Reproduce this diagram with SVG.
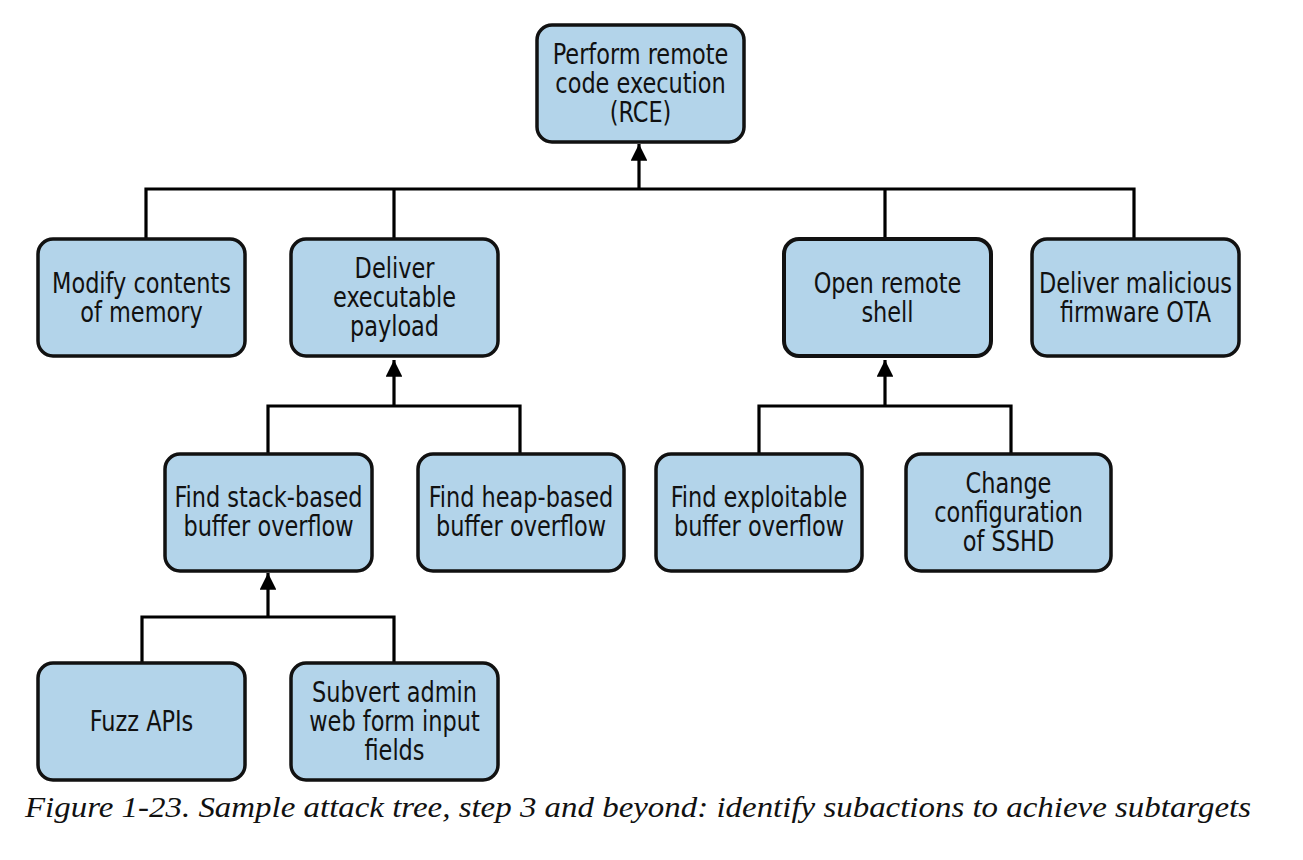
<svg xmlns="http://www.w3.org/2000/svg" width="1303" height="860" viewBox="0 0 1303 860">
<style>
.box{fill:#b3d4ea;stroke:#111;stroke-width:3.5}
.lbl{font-family:"DejaVu Sans Condensed","DejaVu Sans",sans-serif;font-stretch:condensed;font-size:28px;fill:#111;text-anchor:middle}
.ln{fill:none;stroke:#000;stroke-width:3.2}
.cap{font-family:"Liberation Serif",serif;font-style:italic;font-size:30px;fill:#111}
</style>
<defs>
<marker id="arr" viewBox="0 0 10 10" refX="10" refY="5" markerWidth="5.2" markerHeight="5.2" orient="auto" markerUnits="strokeWidth">
<path d="M0,0 L10,5 L0,10 z" fill="#000"/>
</marker>
</defs>
<rect width="1303" height="860" fill="#fff"/>
<g id="connectors">
<path class="ln" d="M146,239 V189 H1134 V239 M394,189 V239 M885,189 V239"/>
<path class="ln" d="M639,189 V144" marker-end="url(#arr)"/>
<path class="ln" d="M268,453 V406 H520 V453"/>
<path class="ln" d="M394,406 V360" marker-end="url(#arr)"/>
<path class="ln" d="M759,453 V406 H1011 V453"/>
<path class="ln" d="M885,406 V360" marker-end="url(#arr)"/>
<path class="ln" d="M142,663 V617 H394 V663"/>
<path class="ln" d="M268,617 V573" marker-end="url(#arr)"/>
</g>
<g id="n-root"><rect class="box" x="537" y="25" width="207" height="117" rx="15"/>
<g transform="translate(640.5,0) scale(0.89,1)"><text class="lbl" x="0" y="64">Perform remote</text><text class="lbl" x="0" y="93">code execution</text><text class="lbl" x="0" y="122">(RCE)</text></g></g>
<g id="n-modify"><rect class="box" x="38" y="239" width="207" height="117" rx="15"/>
<g transform="translate(141.5,0) scale(0.89,1)"><text class="lbl" x="0" y="293">Modify contents</text><text class="lbl" x="0" y="322">of memory</text></g></g>
<g id="n-deliver"><rect class="box" x="291" y="239" width="207" height="117" rx="15"/>
<g transform="translate(394.5,0) scale(0.89,1)"><text class="lbl" x="0" y="278">Deliver</text><text class="lbl" x="0" y="307">executable</text><text class="lbl" x="0" y="336">payload</text></g></g>
<g id="n-shell"><rect class="box" x="784" y="239" width="207" height="117" rx="15" style="stroke-width:4"/>
<g transform="translate(887.5,0) scale(0.89,1)"><text class="lbl" x="0" y="293">Open remote</text><text class="lbl" x="0" y="322">shell</text></g></g>
<g id="n-firmware"><rect class="box" x="1032" y="239" width="207" height="117" rx="15"/>
<g transform="translate(1135.5,0) scale(0.89,1)"><text class="lbl" x="0" y="293">Deliver malicious</text><text class="lbl" x="0" y="322">firmware OTA</text></g></g>
<g id="n-stack"><rect class="box" x="165" y="454" width="207" height="117" rx="15"/>
<g transform="translate(268.5,0) scale(0.89,1)"><text class="lbl" x="0" y="507">Find stack-based</text><text class="lbl" x="0" y="536">buffer overflow</text></g></g>
<g id="n-heap"><rect class="box" x="418" y="454" width="206" height="117" rx="15"/>
<g transform="translate(521,0) scale(0.89,1)"><text class="lbl" x="0" y="507">Find heap-based</text><text class="lbl" x="0" y="536">buffer overflow</text></g></g>
<g id="n-exploit"><rect class="box" x="656" y="454" width="206" height="117" rx="15"/>
<g transform="translate(759,0) scale(0.89,1)"><text class="lbl" x="0" y="507">Find exploitable</text><text class="lbl" x="0" y="536">buffer overflow</text></g></g>
<g id="n-sshd"><rect class="box" x="906" y="454" width="205" height="117" rx="15"/>
<g transform="translate(1008.5,0) scale(0.89,1)"><text class="lbl" x="0" y="493">Change</text><text class="lbl" x="0" y="522">configuration</text><text class="lbl" x="0" y="551">of SSHD</text></g></g>
<g id="n-fuzz"><rect class="box" x="38" y="663" width="207" height="117" rx="15"/>
<g transform="translate(141.5,0) scale(0.89,1)"><text class="lbl" x="0" y="731">Fuzz APIs</text></g></g>
<g id="n-subvert"><rect class="box" x="291" y="663" width="207" height="117" rx="15"/>
<g transform="translate(394.5,0) scale(0.89,1)"><text class="lbl" x="0" y="702">Subvert admin</text><text class="lbl" x="0" y="731">web form input</text><text class="lbl" x="0" y="760">fields</text></g></g>
<text class="cap" x="25" y="817" textLength="1226" lengthAdjust="spacingAndGlyphs">Figure 1-23. Sample attack tree, step 3 and beyond: identify subactions to achieve subtargets</text>
</svg>
